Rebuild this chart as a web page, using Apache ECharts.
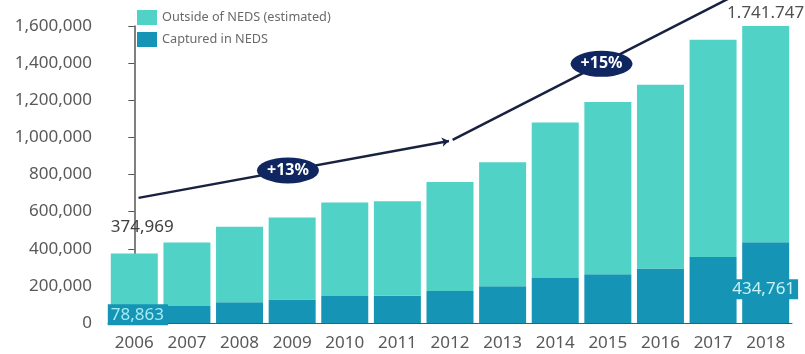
<!DOCTYPE html>
<html>
<head>
<meta charset="utf-8">
<script src="https://cdn.jsdelivr.net/npm/echarts@6/dist/echarts.min.js"></script>
<style>
  html, body { margin: 0; padding: 0; background: #ffffff; }
  #chart { width: 805px; height: 354px; }
</style>
</head>
<body>
<div id="chart"></div>
<script>
// Yearly case counts: total per year and the part captured in NEDS
const years = ['2006', '2007', '2008', '2009', '2010', '2011', '2012', '2013', '2014', '2015', '2016', '2017', '2018'];
const totalCases = [374969, 433000, 519000, 568000, 649000, 656000, 759000, 866000, 1080000, 1190000, 1283000, 1526000, 1741747];
const capturedCases = [78863, 92000, 112000, 126000, 146000, 147000, 173000, 198000, 243000, 262000, 293000, 356000, 434761];

// Y axis range
const yMin = 0;
const yMax = 1600000;
const yStep = 200000;

// Trend arrows, in (category index, value) space
const trendEarly = [[0.08, 674000], [5.98, 981000]];
const trendLate = [[6.05, 987000], [11.6, 1792000]];

// Growth badges placed on the trend arrows
const badgeLabels = ['+13%', '+15%'];
const badgeX = [2.92, 8.88];
const badgeY = [822000, 1396000];

const outsideCases = totalCases.map((t, i) => t - capturedCases[i]);

const FONT = 'Noto Sans';
const C_OUTSIDE = '#50d2c6';
const C_CAPTURED = '#1594b5';
const C_NAVY = '#0f2660';
const C_TEXT = '#595959';

const fmtComma = v => v.toLocaleString('en-US');
const fmtDot = v => v.toLocaleString('en-US').replace(/,/g, '.');

const lastIdx = years.length - 1;

const capturedData = capturedCases.map((v, i) => {
  if (i === 0) {
    return {
      value: v,
      label: {
        show: true, position: [-3, -4], align: 'left', verticalAlign: 'top',
        formatter: () => fmtComma(v),
        color: '#a3ecf1', fontSize: 17, fontFamily: FONT, lineHeight: 18,
        backgroundColor: C_CAPTURED, padding: [2, 4, 1, 3]
      }
    };
  }
  if (i === lastIdx) {
    return {
      value: v,
      label: {
        show: true, position: [-13, 37], align: 'left', verticalAlign: 'top',
        formatter: () => fmtComma(v),
        color: '#c8f2f5', fontSize: 17, fontFamily: FONT, lineHeight: 18,
        backgroundColor: C_CAPTURED, padding: [1, 3, 1, 3]
      }
    };
  }
  return v;
});

const outsideData = outsideCases.map((v, i) => {
  if (i === 0) {
    return {
      value: v,
      label: {
        show: true, position: [0, -35], align: 'left', verticalAlign: 'top',
        formatter: () => fmtComma(totalCases[0]),
        color: '#404040', fontSize: 17, fontFamily: FONT
      }
    };
  }
  if (i === lastIdx) {
    return {
      value: v,
      label: {
        show: true, position: 'top', distance: 4,
        formatter: () => fmtDot(totalCases[lastIdx]),
        color: '#505050', fontSize: 17, fontFamily: FONT
      }
    };
  }
  return v;
});

const ellipsePath = 'path://M0 50 A50 50 0 1 1 100 50 A50 50 0 1 1 0 50 Z';

const chart = echarts.init(document.getElementById('chart'), null, { renderer: 'canvas' });
chart.setOption({
  animation: false,
  backgroundColor: '#ffffff',
  textStyle: { fontFamily: FONT },
  grid: { left: 108, right: 13, top: 26, bottom: 31 },
  legend: {
    orient: 'vertical',
    left: 137, top: 10, padding: 0,
    itemWidth: 20, itemHeight: 15, itemGap: 7,
    icon: 'rect',
    data: ['Outside of NEDS (estimated)', 'Captured in NEDS'],
    textStyle: { color: '#6a6a6a', fontSize: 12.7, fontFamily: FONT }
  },
  xAxis: [
    {
      type: 'category',
      data: years,
      axisLine: { show: true, lineStyle: { color: '#555555', width: 1 } },
      axisTick: { show: false },
      axisLabel: { color: C_TEXT, fontSize: 17, fontFamily: FONT, margin: 12 }
    },
    {
      type: 'value', show: false, min: -0.5, max: years.length - 0.5
    }
  ],
  yAxis: [
    {
      type: 'value', min: yMin, max: yMax, interval: yStep,
      axisLine: { show: true, lineStyle: { color: '#555555', width: 1.5 } },
      axisTick: { show: true, length: 6, lineStyle: { color: '#555555' } },
      splitLine: { show: false },
      axisLabel: { color: C_TEXT, fontSize: 17, fontFamily: FONT, margin: 16, formatter: v => fmtComma(v) }
    },
    {
      type: 'value', show: false, min: yMin, max: yMax
    }
  ],
  series: [
    {
      name: 'Captured in NEDS',
      type: 'bar', stack: 'total', barWidth: 47,
      itemStyle: { color: C_CAPTURED },
      data: capturedData
    },
    {
      name: 'Outside of NEDS (estimated)',
      type: 'bar', stack: 'total', barWidth: 47,
      itemStyle: { color: C_OUTSIDE },
      data: outsideData
    },
    {
      type: 'lines', coordinateSystem: 'cartesian2d', xAxisIndex: 1, yAxisIndex: 1,
      clip: false, silent: true, z: 5,
      symbol: ['none', 'arrow'], symbolSize: 7,
      lineStyle: { color: '#18213f', width: 2.5, opacity: 1 },
      data: [{ coords: trendEarly }]
    },
    {
      type: 'lines', coordinateSystem: 'cartesian2d', xAxisIndex: 1, yAxisIndex: 1,
      clip: false, silent: true, z: 5,
      symbol: ['none', 'none'],
      lineStyle: { color: '#18213f', width: 2.5, opacity: 1 },
      data: [{ coords: trendLate }]
    },
    {
      type: 'scatter', xAxisIndex: 1, yAxisIndex: 1, clip: false, silent: true, z: 6,
      symbol: ellipsePath, symbolSize: [62, 26],
      itemStyle: { color: C_NAVY, opacity: 1 },
      label: {
        show: true, position: 'inside', color: '#ffffff',
        fontSize: 16, fontWeight: 'bold', fontFamily: FONT,
        formatter: p => p.name
      },
      data: badgeLabels.map((t, i) => ({ name: t, value: [badgeX[i], badgeY[i]] }))
    }
  ]
});
</script>
</body>
</html>
